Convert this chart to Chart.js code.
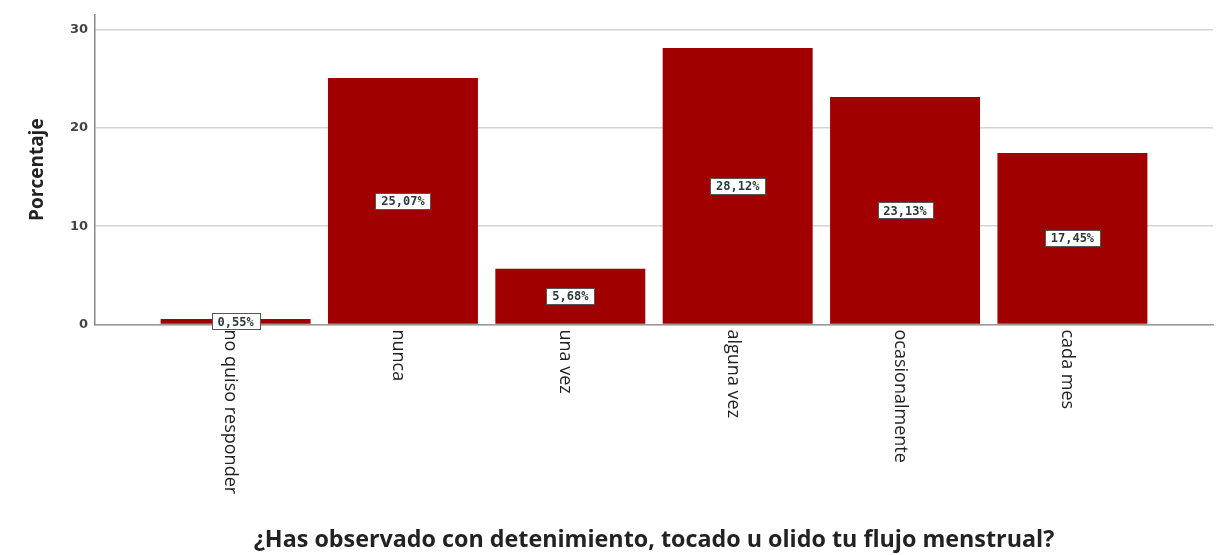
<!DOCTYPE html>
<html>
<head>
<meta charset="utf-8">
<script src="https://cdn.jsdelivr.net/npm/chart.js@4"></script>
<style>
  html, body { margin: 0; padding: 0; background: #fff; }
  #wrap { width: 1220px; height: 555px; }
</style>
</head>
<body>
<div id="wrap"><canvas id="grafico" width="1220" height="555"></canvas></div>
<script>
// Datos
const categorias = ['no quiso responder', 'nunca', 'una vez', 'alguna vez', 'ocasionalmente', 'cada mes'];
const porcentajes = [0.55, 25.07, 5.68, 28.12, 23.13, 17.45];
const etiquetasValor = ['0,55%', '25,07%', '5,68%', '28,12%', '23,13%', '17,45%'];
const marcasY = [0, 10, 20, 30];

const tituloX = '¿Has observado con detenimiento, tocado u olido tu flujo menstrual?';
const tituloY = 'Porcentaje';

// Plugin: etiquetas de valor en cajas blancas y etiquetas de categoría giradas
const etiquetasPlugin = {
  id: 'etiquetas',
  afterDatasetsDraw(chart) {
    const ctx = chart.ctx;
    const meta = chart.getDatasetMeta(0);
    ctx.save();
    ctx.font = 'bold 12px "DejaVu Sans Mono"';
    ctx.textAlign = 'center';
    ctx.textBaseline = 'middle';
    meta.data.forEach((bar, i) => {
      const txt = etiquetasValor[i];
      const cy = (bar.y + bar.base) / 2;
      const w = Math.round(ctx.measureText(txt).width + 12);
      const h = 16;
      const x0 = Math.round(bar.x - w / 2);
      const y0 = Math.round(cy - h / 2);
      ctx.fillStyle = '#fff';
      ctx.fillRect(x0, y0, w, h);
      ctx.strokeStyle = '#555';
      ctx.lineWidth = 1;
      ctx.strokeRect(x0 + 0.5, y0 + 0.5, w, h);
      ctx.fillStyle = '#2a3a3a';
      ctx.fillText(txt, bar.x, cy + 1);
    });
    // categorías en vertical (leídas de arriba hacia abajo)
    const xs = chart.scales.x;
    const base = chart.chartArea.bottom;
    ctx.font = '18px "Open Sans"';
    ctx.fillStyle = '#222';
    ctx.textAlign = 'left';
    ctx.textBaseline = 'middle';
    categorias.forEach((c, i) => {
      const px = xs.getPixelForValue(i);
      ctx.save();
      ctx.translate(px - 5, base + 5);
      ctx.rotate(Math.PI / 2);
      ctx.fillText(c, 0, 0);
      ctx.restore();
    });
    ctx.restore();
  }
};

const ctx = document.getElementById('grafico').getContext('2d');
new Chart(ctx, {
  type: 'bar',
  data: {
    datasets: [{
      label: tituloY,
      data: porcentajes.map((v, i) => ({ x: i, y: v })),
      backgroundColor: '#a00000',
      borderWidth: 0,
      categoryPercentage: 1,
      barPercentage: 0.896
    }]
  },
  options: {
    responsive: false,
    animation: false,
    layout: { padding: { top: 13, right: 7, left: 0, bottom: 0 } },
    plugins: { legend: { display: false }, tooltip: { enabled: false } },
    scales: {
      x: {
        type: 'linear',
        offset: false,
        min: -0.84,
        max: 5.84,
        afterBuildTicks(s) { s.ticks = categorias.map((c, i) => ({ value: i })); },
        grid: { display: false },
        border: { display: true, color: '#999', width: 1.5 },
        ticks: { display: false },
        afterFit(s) { s.height = 230.5; },
        title: {
          display: true,
          text: tituloX,
          color: '#222',
          font: { family: 'Open Sans', size: 23.3, weight: 'bold' },
          padding: { top: 0, bottom: 1 }
        }
      },
      y: {
        min: 0,
        max: 31.5,
        afterFit(s) { s.width = 95; },
        afterBuildTicks(s) { s.ticks = marcasY.map(v => ({ value: v })); },
        grid: { color: '#d4d4d4', lineWidth: 1.5, drawTicks: false },
        border: { display: true, color: '#888', width: 1.5 },
        ticks: {
          padding: 7,
          color: '#444',
          font: { family: 'DejaVu Sans', size: 13, weight: 'bold' }
        },
        title: {
          display: true,
          text: tituloY,
          color: '#222',
          font: { family: 'Open Sans', size: 19, weight: 'bold' },
          padding: { top: 26, bottom: 0 }
        }
      }
    }
  },
  plugins: [etiquetasPlugin]
});
</script>
</body>
</html>
